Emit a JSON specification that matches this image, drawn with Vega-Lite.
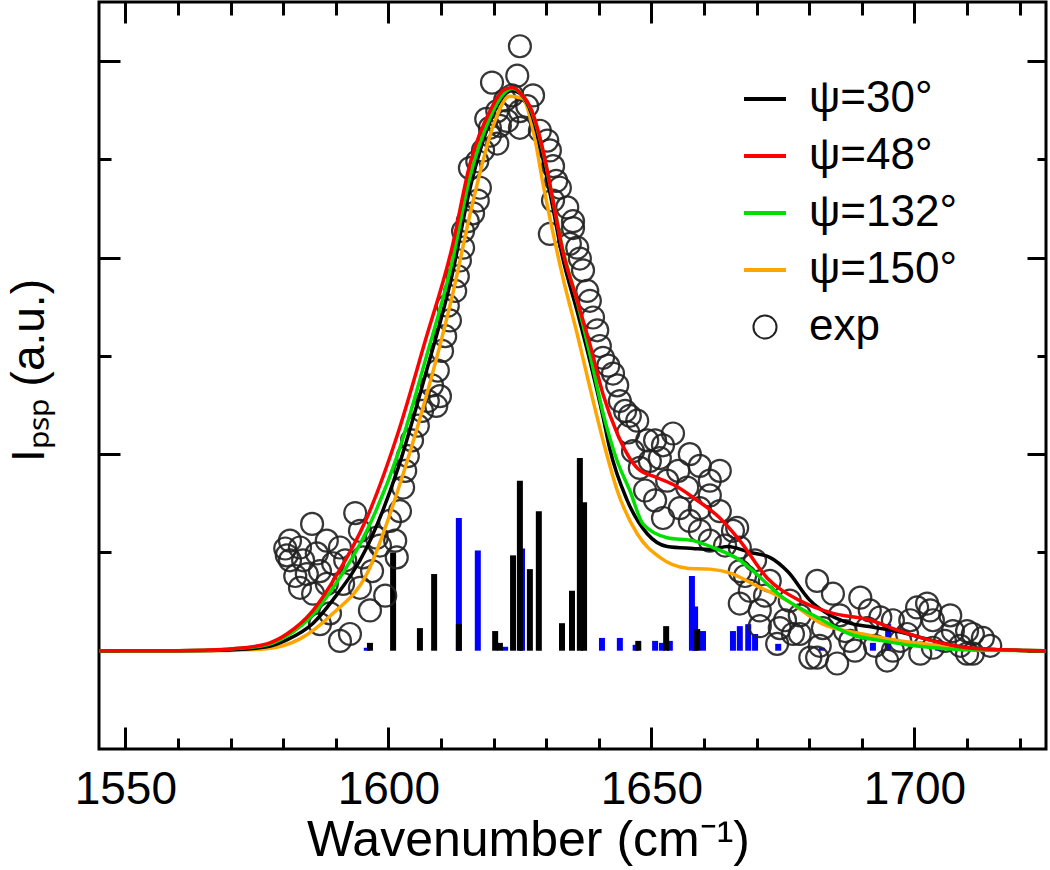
{
  "$schema": "https://vega.github.io/schema/vega-lite/v6.json",
  "width": 947,
  "height": 747,
  "autosize": {"type": "none"},
  "padding": {"left": 99, "top": 2, "right": 4, "bottom": 121},
  "background": "white",
  "config": {
    "view": {"stroke": "black", "strokeWidth": 3},
    "axis": {"domain": false, "grid": false, "tickColor": "black", "tickWidth": 3, "labelFont": "Liberation Sans", "titleFont": "Liberation Sans", "labelColor": "black", "titleColor": "black", "titleFontWeight": "normal"}
  },
  "datasets": {
    "sticks": [
      {"set": "blue", "wn": 1595.9, "h": 0.03}, {"set": "blue", "wn": 1613.4, "h": 1.35}, {"set": "blue", "wn": 1617.0, "h": 1.02}, {"set": "blue", "wn": 1622.2, "h": 0.04}, {"set": "blue", "wn": 1625.4, "h": 1.04}, {"set": "blue", "wn": 1640.6, "h": 0.13}, {"set": "blue", "wn": 1644.0, "h": 0.13}, {"set": "blue", "wn": 1647.0, "h": 0.06}, {"set": "blue", "wn": 1650.7, "h": 0.10}, {"set": "blue", "wn": 1652.0, "h": 0.08}, {"set": "blue", "wn": 1653.5, "h": 0.10}, {"set": "blue", "wn": 1657.7, "h": 0.76}, {"set": "blue", "wn": 1658.3, "h": 0.45}, {"set": "blue", "wn": 1659.8, "h": 0.20}, {"set": "blue", "wn": 1665.5, "h": 0.20}, {"set": "blue", "wn": 1666.8, "h": 0.25}, {"set": "blue", "wn": 1668.4, "h": 0.27}, {"set": "blue", "wn": 1669.7, "h": 0.17}, {"set": "blue", "wn": 1674.1, "h": 0.07}, {"set": "blue", "wn": 1682.4, "h": 0.03}, {"set": "blue", "wn": 1692.1, "h": 0.08}, {"set": "blue", "wn": 1695.0, "h": 0.27}, {"set": "blue", "wn": 1704.5, "h": 0.03},
      {"set": "black", "wn": 1596.5, "h": 0.08}, {"set": "black", "wn": 1600.9, "h": 1.0}, {"set": "black", "wn": 1606.0, "h": 0.23}, {"set": "black", "wn": 1608.7, "h": 0.78}, {"set": "black", "wn": 1613.4, "h": 0.27}, {"set": "black", "wn": 1620.3, "h": 0.20}, {"set": "black", "wn": 1621.2, "h": 0.08}, {"set": "black", "wn": 1623.7, "h": 0.97}, {"set": "black", "wn": 1625.0, "h": 1.73}, {"set": "black", "wn": 1626.9, "h": 0.83}, {"set": "black", "wn": 1628.6, "h": 1.42}, {"set": "black", "wn": 1633.0, "h": 0.28}, {"set": "black", "wn": 1634.9, "h": 0.61}, {"set": "black", "wn": 1636.4, "h": 1.96}, {"set": "black", "wn": 1637.2, "h": 1.51}, {"set": "black", "wn": 1647.5, "h": 0.10}, {"set": "black", "wn": 1652.8, "h": 0.25}, {"set": "black", "wn": 1658.7, "h": 0.22}
    ],
    "exp": [
      {"wn": 1580.4, "I": 1.04}, {"wn": 1581.3, "I": 1.12}, {"wn": 1583.2, "I": 1.05}, {"wn": 1585.5, "I": 1.29}, {"wn": 1588.3, "I": 1.12}, {"wn": 1590.8, "I": 1.05}, {"wn": 1593.7, "I": 1.40}, {"wn": 1594.6, "I": 1.22}, {"wn": 1580.7, "I": 0.97}, {"wn": 1583.8, "I": 0.92}, {"wn": 1586.4, "I": 0.99}, {"wn": 1589.5, "I": 0.89}, {"wn": 1584.5, "I": 0.78}, {"wn": 1583.2, "I": 0.64}, {"wn": 1585.7, "I": 0.58}, {"wn": 1588.3, "I": 0.68}, {"wn": 1591.4, "I": 0.68}, {"wn": 1594.6, "I": 0.64}, {"wn": 1595.2, "I": 0.95}, {"wn": 1597.8, "I": 1.15}, {"wn": 1600.3, "I": 1.32}, {"wn": 1601.6, "I": 0.95}, {"wn": 1602.2, "I": 1.42}, {"wn": 1602.8, "I": 1.66}, {"wn": 1588.9, "I": 0.38}, {"wn": 1587.0, "I": 0.27}, {"wn": 1590.8, "I": 0.10}, {"wn": 1592.7, "I": 0.17}, {"wn": 1581.3, "I": 0.92}, {"wn": 1582.3, "I": 0.76}, {"wn": 1587.0, "I": 0.81}, {"wn": 1591.8, "I": 0.92}, {"wn": 1596.9, "I": 0.81}, {"wn": 1599.4, "I": 0.56}, {"wn": 1596.5, "I": 0.41}, {"wn": 1598.4, "I": 1.07}, {"wn": 1601.3, "I": 1.12},
      {"wn": 1603.2, "I": 1.83}, {"wn": 1603.7, "I": 1.98}, {"wn": 1604.5, "I": 2.14}, {"wn": 1605.6, "I": 2.29}, {"wn": 1606.4, "I": 2.44}, {"wn": 1607.5, "I": 2.54}, {"wn": 1609.1, "I": 2.49}, {"wn": 1609.8, "I": 2.59}, {"wn": 1608.3, "I": 2.70}, {"wn": 1609.4, "I": 2.85}, {"wn": 1610.2, "I": 3.05}, {"wn": 1610.8, "I": 3.20}, {"wn": 1611.7, "I": 3.36}, {"wn": 1611.3, "I": 3.51}, {"wn": 1612.7, "I": 3.66}, {"wn": 1613.2, "I": 3.81}, {"wn": 1613.6, "I": 3.97}, {"wn": 1614.2, "I": 4.10}, {"wn": 1614.2, "I": 4.27}, {"wn": 1615.1, "I": 4.37}, {"wn": 1616.1, "I": 4.45}, {"wn": 1617.0, "I": 4.58}, {"wn": 1617.4, "I": 4.71}, {"wn": 1615.5, "I": 4.91}, {"wn": 1616.9, "I": 4.98}, {"wn": 1618.0, "I": 5.09}, {"wn": 1619.3, "I": 5.24}, {"wn": 1619.3, "I": 5.32}, {"wn": 1620.7, "I": 5.16}, {"wn": 1620.7, "I": 5.49}, {"wn": 1619.7, "I": 5.78}, {"wn": 1622.2, "I": 5.60}, {"wn": 1622.6, "I": 5.39}, {"wn": 1621.2, "I": 5.34}, {"wn": 1618.6, "I": 5.41},
      {"wn": 1624.5, "I": 5.85}, {"wn": 1625.0, "I": 6.15}, {"wn": 1623.5, "I": 5.65}, {"wn": 1625.0, "I": 5.49}, {"wn": 1625.0, "I": 5.32}, {"wn": 1626.4, "I": 5.54}, {"wn": 1627.5, "I": 5.65}, {"wn": 1628.8, "I": 5.29}, {"wn": 1630.2, "I": 5.19}, {"wn": 1630.7, "I": 5.09},
      {"wn": 1631.3, "I": 4.93}, {"wn": 1631.9, "I": 4.78}, {"wn": 1632.6, "I": 4.71}, {"wn": 1631.3, "I": 4.58}, {"wn": 1634.0, "I": 4.51}, {"wn": 1635.1, "I": 4.37}, {"wn": 1635.1, "I": 4.30}, {"wn": 1634.5, "I": 4.14}, {"wn": 1630.7, "I": 4.24}, {"wn": 1635.9, "I": 4.10}, {"wn": 1636.4, "I": 3.99}, {"wn": 1637.0, "I": 3.87}, {"wn": 1637.8, "I": 3.66}, {"wn": 1638.3, "I": 3.56}, {"wn": 1638.9, "I": 3.39}, {"wn": 1639.7, "I": 3.26}, {"wn": 1640.2, "I": 3.10}, {"wn": 1640.8, "I": 2.98}, {"wn": 1641.8, "I": 2.90}, {"wn": 1642.7, "I": 2.82}, {"wn": 1643.5, "I": 2.70}, {"wn": 1644.0, "I": 2.54}, {"wn": 1645.0, "I": 2.44}, {"wn": 1645.9, "I": 2.39}, {"wn": 1647.3, "I": 2.34}, {"wn": 1645.6, "I": 2.22}, {"wn": 1649.2, "I": 2.14}, {"wn": 1646.5, "I": 2.03}, {"wn": 1647.8, "I": 1.86}, {"wn": 1650.7, "I": 2.14}, {"wn": 1651.6, "I": 1.96}, {"wn": 1654.1, "I": 2.21}, {"wn": 1652.2, "I": 2.09}, {"wn": 1649.7, "I": 1.93}, {"wn": 1653.0, "I": 1.73}, {"wn": 1655.1, "I": 1.83}, {"wn": 1656.8, "I": 1.66}, {"wn": 1657.3, "I": 2.00}, {"wn": 1659.2, "I": 1.88}, {"wn": 1652.2, "I": 1.35}, {"wn": 1655.4, "I": 1.45}, {"wn": 1659.2, "I": 1.45}, {"wn": 1661.1, "I": 1.58}, {"wn": 1663.0, "I": 1.42}, {"wn": 1657.3, "I": 1.32}, {"wn": 1661.1, "I": 1.12}, {"wn": 1665.5, "I": 1.22}, {"wn": 1666.3, "I": 1.25}, {"wn": 1664.0, "I": 1.07}, {"wn": 1666.8, "I": 1.05}, {"wn": 1659.2, "I": 1.22}, {"wn": 1650.7, "I": 1.53}, {"wn": 1648.8, "I": 1.63}, {"wn": 1661.1, "I": 1.73}, {"wn": 1663.0, "I": 1.83},
      {"wn": 1666.8, "I": 0.48}, {"wn": 1670.6, "I": 0.41}, {"wn": 1673.9, "I": 0.07}, {"wn": 1681.5, "I": 0.71}, {"wn": 1684.5, "I": 0.58}, {"wn": 1689.7, "I": 0.54}, {"wn": 1680.2, "I": -0.07}, {"wn": 1685.3, "I": -0.13}, {"wn": 1695.9, "I": 0.0}, {"wn": 1700.5, "I": 0.44}, {"wn": 1703.0, "I": 0.41}, {"wn": 1707.3, "I": 0.20}, {"wn": 1711.1, "I": 0.17}, {"wn": 1710.0, "I": -0.03}, {"wn": 1693.5, "I": 0.34}, {"wn": 1698.6, "I": 0.17}, {"wn": 1676.9, "I": 0.17}, {"wn": 1682.6, "I": 0.23}, {"wn": 1687.8, "I": 0.10}, {"wn": 1703.5, "I": 0.03}, {"wn": 1713.0, "I": 0.13}, {"wn": 1667.8, "I": 0.76}, {"wn": 1668.7, "I": 0.61}, {"wn": 1671.6, "I": 0.56}, {"wn": 1674.4, "I": 0.23}, {"wn": 1678.2, "I": 0.17}, {"wn": 1681.5, "I": -0.07}, {"wn": 1694.8, "I": -0.10}, {"wn": 1702.4, "I": 0.48}, {"wn": 1703.5, "I": 0.31}, {"wn": 1710.0, "I": 0.20}, {"wn": 1711.1, "I": -0.03}, {"wn": 1701.1, "I": -0.03}, {"wn": 1695.9, "I": 0.31}, {"wn": 1691.0, "I": 0.23}, {"wn": 1669.7, "I": 0.92}, {"wn": 1672.5, "I": 0.71}, {"wn": 1676.3, "I": 0.51}, {"wn": 1678.2, "I": 0.36}, {"wn": 1685.8, "I": 0.36}, {"wn": 1686.8, "I": 0.20}, {"wn": 1691.5, "I": 0.41}, {"wn": 1697.3, "I": 0.10}, {"wn": 1705.8, "I": 0.10}, {"wn": 1708.7, "I": 0.05}, {"wn": 1666.8, "I": 0.81}, {"wn": 1670.6, "I": 0.25}, {"wn": 1675.4, "I": 0.31}, {"wn": 1682.0, "I": 0.05}, {"wn": 1688.7, "I": 0.0}, {"wn": 1692.5, "I": 0.05}, {"wn": 1699.2, "I": 0.31}, {"wn": 1706.8, "I": 0.36}, {"wn": 1714.4, "I": 0.05}
    ],
    "curves": [
      {"s": "ψ=150°", "wn": 1545, "I": 0}, {"s": "ψ=150°", "wn": 1565, "I": 0}, {"s": "ψ=150°", "wn": 1570.5, "I": 0.005}, {"s": "ψ=150°", "wn": 1576.9, "I": 0.02}, {"s": "ψ=150°", "wn": 1583.2, "I": 0.12}, {"s": "ψ=150°", "wn": 1589.5, "I": 0.38}, {"s": "ψ=150°", "wn": 1595.9, "I": 0.78}, {"s": "ψ=150°", "wn": 1601.8, "I": 1.63}, {"s": "ψ=150°", "wn": 1607, "I": 2.55}, {"s": "ψ=150°", "wn": 1612.1, "I": 3.6}, {"s": "ψ=150°", "wn": 1616, "I": 4.55}, {"s": "ψ=150°", "wn": 1620, "I": 5.35}, {"s": "ψ=150°", "wn": 1623, "I": 5.64}, {"s": "ψ=150°", "wn": 1625.5, "I": 5.62}, {"s": "ψ=150°", "wn": 1627.5, "I": 5.3}, {"s": "ψ=150°", "wn": 1629.4, "I": 4.75}, {"s": "ψ=150°", "wn": 1631.3, "I": 4.25}, {"s": "ψ=150°", "wn": 1633.2, "I": 3.79}, {"s": "ψ=150°", "wn": 1635.9, "I": 3.22}, {"s": "ψ=150°", "wn": 1638.3, "I": 2.68}, {"s": "ψ=150°", "wn": 1640.8, "I": 2.14}, {"s": "ψ=150°", "wn": 1643.5, "I": 1.63}, {"s": "ψ=150°", "wn": 1647.3, "I": 1.19}, {"s": "ψ=150°", "wn": 1651.6, "I": 0.95}, {"s": "ψ=150°", "wn": 1656.8, "I": 0.84}, {"s": "ψ=150°", "wn": 1661.1, "I": 0.83}, {"s": "ψ=150°", "wn": 1665, "I": 0.79}, {"s": "ψ=150°", "wn": 1670, "I": 0.66}, {"s": "ψ=150°", "wn": 1675.8, "I": 0.51}, {"s": "ψ=150°", "wn": 1682.6, "I": 0.27}, {"s": "ψ=150°", "wn": 1690.2, "I": 0.17}, {"s": "ψ=150°", "wn": 1695, "I": 0.12}, {"s": "ψ=150°", "wn": 1700, "I": 0.08}, {"s": "ψ=150°", "wn": 1705, "I": 0.05}, {"s": "ψ=150°", "wn": 1710, "I": 0.03}, {"s": "ψ=150°", "wn": 1716, "I": 0.01}, {"s": "ψ=150°", "wn": 1725, "I": 0},
      {"s": "ψ=30°", "wn": 1545, "I": 0}, {"s": "ψ=30°", "wn": 1560, "I": 0}, {"s": "ψ=30°", "wn": 1566, "I": 0.003}, {"s": "ψ=30°", "wn": 1570.5, "I": 0.01}, {"s": "ψ=30°", "wn": 1576.9, "I": 0.04}, {"s": "ψ=30°", "wn": 1580.7, "I": 0.11}, {"s": "ψ=30°", "wn": 1585.7, "I": 0.28}, {"s": "ψ=30°", "wn": 1589.5, "I": 0.52}, {"s": "ψ=30°", "wn": 1595.9, "I": 1.05}, {"s": "ψ=30°", "wn": 1601.8, "I": 1.85}, {"s": "ψ=30°", "wn": 1607, "I": 2.8}, {"s": "ψ=30°", "wn": 1612.1, "I": 3.82}, {"s": "ψ=30°", "wn": 1615.5, "I": 4.7}, {"s": "ψ=30°", "wn": 1619.3, "I": 5.38}, {"s": "ψ=30°", "wn": 1621.8, "I": 5.64}, {"s": "ψ=30°", "wn": 1623.5, "I": 5.70}, {"s": "ψ=30°", "wn": 1625, "I": 5.67}, {"s": "ψ=30°", "wn": 1627.3, "I": 5.45}, {"s": "ψ=30°", "wn": 1629.4, "I": 5.0}, {"s": "ψ=30°", "wn": 1631.3, "I": 4.5}, {"s": "ψ=30°", "wn": 1633, "I": 4.03}, {"s": "ψ=30°", "wn": 1635.9, "I": 3.45}, {"s": "ψ=30°", "wn": 1638.3, "I": 2.95}, {"s": "ψ=30°", "wn": 1640.8, "I": 2.38}, {"s": "ψ=30°", "wn": 1642.1, "I": 2.05}, {"s": "ψ=30°", "wn": 1645.4, "I": 1.53}, {"s": "ψ=30°", "wn": 1649.2, "I": 1.19}, {"s": "ψ=30°", "wn": 1653, "I": 1.06}, {"s": "ψ=30°", "wn": 1657.9, "I": 1.04}, {"s": "ψ=30°", "wn": 1661.1, "I": 1.03}, {"s": "ψ=30°", "wn": 1664.5, "I": 1.06}, {"s": "ψ=30°", "wn": 1668.7, "I": 1.0}, {"s": "ψ=30°", "wn": 1672.5, "I": 0.95}, {"s": "ψ=30°", "wn": 1676, "I": 0.8}, {"s": "ψ=30°", "wn": 1680, "I": 0.52}, {"s": "ψ=30°", "wn": 1684, "I": 0.36}, {"s": "ψ=30°", "wn": 1687.7, "I": 0.28}, {"s": "ψ=30°", "wn": 1692, "I": 0.24}, {"s": "ψ=30°", "wn": 1697.3, "I": 0.19}, {"s": "ψ=30°", "wn": 1703, "I": 0.11}, {"s": "ψ=30°", "wn": 1710, "I": 0.03}, {"s": "ψ=30°", "wn": 1716, "I": 0.01}, {"s": "ψ=30°", "wn": 1725, "I": 0},
      {"s": "ψ=132°", "wn": 1545, "I": 0}, {"s": "ψ=132°", "wn": 1560, "I": 0}, {"s": "ψ=132°", "wn": 1566, "I": 0.005}, {"s": "ψ=132°", "wn": 1570.5, "I": 0.02}, {"s": "ψ=132°", "wn": 1576.9, "I": 0.06}, {"s": "ψ=132°", "wn": 1580.7, "I": 0.15}, {"s": "ψ=132°", "wn": 1585.7, "I": 0.37}, {"s": "ψ=132°", "wn": 1589.5, "I": 0.64}, {"s": "ψ=132°", "wn": 1595.9, "I": 1.22}, {"s": "ψ=132°", "wn": 1601.8, "I": 2.0}, {"s": "ψ=132°", "wn": 1607, "I": 2.95}, {"s": "ψ=132°", "wn": 1612.1, "I": 3.95}, {"s": "ψ=132°", "wn": 1615.5, "I": 4.82}, {"s": "ψ=132°", "wn": 1619.3, "I": 5.42}, {"s": "ψ=132°", "wn": 1621.8, "I": 5.66}, {"s": "ψ=132°", "wn": 1623.5, "I": 5.72}, {"s": "ψ=132°", "wn": 1625, "I": 5.68}, {"s": "ψ=132°", "wn": 1627.3, "I": 5.48}, {"s": "ψ=132°", "wn": 1629.4, "I": 5.08}, {"s": "ψ=132°", "wn": 1631.3, "I": 4.58}, {"s": "ψ=132°", "wn": 1633, "I": 4.12}, {"s": "ψ=132°", "wn": 1635.9, "I": 3.55}, {"s": "ψ=132°", "wn": 1638.3, "I": 3.02}, {"s": "ψ=132°", "wn": 1640.8, "I": 2.42}, {"s": "ψ=132°", "wn": 1643.5, "I": 1.93}, {"s": "ψ=132°", "wn": 1645.9, "I": 1.63}, {"s": "ψ=132°", "wn": 1648.4, "I": 1.29}, {"s": "ψ=132°", "wn": 1653, "I": 1.15}, {"s": "ψ=132°", "wn": 1657.9, "I": 1.12}, {"s": "ψ=132°", "wn": 1661.7, "I": 1.05}, {"s": "ψ=132°", "wn": 1666.8, "I": 0.92}, {"s": "ψ=132°", "wn": 1668.7, "I": 0.84}, {"s": "ψ=132°", "wn": 1675, "I": 0.54}, {"s": "ψ=132°", "wn": 1681.5, "I": 0.34}, {"s": "ψ=132°", "wn": 1687.7, "I": 0.17}, {"s": "ψ=132°", "wn": 1694, "I": 0.10}, {"s": "ψ=132°", "wn": 1700, "I": 0.05}, {"s": "ψ=132°", "wn": 1706, "I": 0.02}, {"s": "ψ=132°", "wn": 1712, "I": 0.005}, {"s": "ψ=132°", "wn": 1725, "I": 0},
      {"s": "ψ=48°", "wn": 1545, "I": 0}, {"s": "ψ=48°", "wn": 1560, "I": 0}, {"s": "ψ=48°", "wn": 1565, "I": 0.005}, {"s": "ψ=48°", "wn": 1570.5, "I": 0.02}, {"s": "ψ=48°", "wn": 1576.9, "I": 0.07}, {"s": "ψ=48°", "wn": 1580.7, "I": 0.17}, {"s": "ψ=48°", "wn": 1585.7, "I": 0.41}, {"s": "ψ=48°", "wn": 1589.5, "I": 0.71}, {"s": "ψ=48°", "wn": 1595.9, "I": 1.35}, {"s": "ψ=48°", "wn": 1601.8, "I": 2.21}, {"s": "ψ=48°", "wn": 1607, "I": 3.15}, {"s": "ψ=48°", "wn": 1612.1, "I": 4.10}, {"s": "ψ=48°", "wn": 1615.5, "I": 4.95}, {"s": "ψ=48°", "wn": 1619.3, "I": 5.49}, {"s": "ψ=48°", "wn": 1621.8, "I": 5.70}, {"s": "ψ=48°", "wn": 1623.5, "I": 5.73}, {"s": "ψ=48°", "wn": 1625, "I": 5.68}, {"s": "ψ=48°", "wn": 1627.3, "I": 5.49}, {"s": "ψ=48°", "wn": 1629.4, "I": 5.09}, {"s": "ψ=48°", "wn": 1631.3, "I": 4.58}, {"s": "ψ=48°", "wn": 1633, "I": 4.10}, {"s": "ψ=48°", "wn": 1635.9, "I": 3.56}, {"s": "ψ=48°", "wn": 1638.3, "I": 3.12}, {"s": "ψ=48°", "wn": 1640.8, "I": 2.61}, {"s": "ψ=48°", "wn": 1643.5, "I": 2.21}, {"s": "ψ=48°", "wn": 1647.3, "I": 1.86}, {"s": "ψ=48°", "wn": 1651.1, "I": 1.76}, {"s": "ψ=48°", "wn": 1654.5, "I": 1.68}, {"s": "ψ=48°", "wn": 1657.9, "I": 1.56}, {"s": "ψ=48°", "wn": 1663, "I": 1.35}, {"s": "ψ=48°", "wn": 1666.8, "I": 1.12}, {"s": "ψ=48°", "wn": 1672, "I": 0.74}, {"s": "ψ=48°", "wn": 1678.2, "I": 0.51}, {"s": "ψ=48°", "wn": 1684.5, "I": 0.38}, {"s": "ψ=48°", "wn": 1691, "I": 0.32}, {"s": "ψ=48°", "wn": 1697.3, "I": 0.20}, {"s": "ψ=48°", "wn": 1703.5, "I": 0.10}, {"s": "ψ=48°", "wn": 1710, "I": 0.03}, {"s": "ψ=48°", "wn": 1716.3, "I": 0.01}, {"s": "ψ=48°", "wn": 1725, "I": 0}
    ]
  },
  "resolve": {"axis": {"x": "independent", "y": "independent"}},
  "layer": [
    {
      "data": {"name": "sticks"},
      "transform": [{"filter": "datum.set === 'blue'"}],
      "mark": {"type": "rule", "color": "#0000ff", "strokeWidth": 6, "strokeCap": "butt"},
      "encoding": {
        "x": {"field": "wn", "type": "quantitative", "scale": {"domain": [1545, 1725], "nice": false, "zero": false},
              "axis": {"orient": "bottom", "values": [1550, 1560, 1570, 1580, 1590, 1600, 1610, 1620, 1630, 1640, 1650, 1660, 1670, 1680, 1690, 1700, 1710, 1720], "tickSize": -11, "labels": false, "title": null}},
        "y": {"field": "h", "type": "quantitative", "scale": {"domain": [-1, 6.6], "nice": false, "zero": false},
              "axis": {"orient": "left", "values": [1, 3, 5], "tickSize": -12, "labels": false, "title": null}},
        "y2": {"datum": 0}
      }
    },
    {
      "data": {"name": "sticks"},
      "transform": [{"filter": "datum.set === 'black'"}],
      "mark": {"type": "rule", "color": "#000000", "strokeWidth": 6, "strokeCap": "butt"},
      "encoding": {
        "x": {"field": "wn", "type": "quantitative", "scale": {"domain": [1545, 1725], "nice": false, "zero": false},
              "axis": {"orient": "bottom", "values": [1550, 1600, 1650, 1700], "tickSize": -22, "labels": true, "labelFontSize": 46, "labelPadding": 76, "labelBaseline": "alphabetic", "format": "d",
                       "title": "Wavenumber (cm⁻¹)", "titleFontSize": 50, "titleX": 429, "titleY": 106, "titleBaseline": "alphabetic"}},
        "y": {"field": "h", "type": "quantitative", "scale": {"domain": [-1, 6.6], "nice": false, "zero": false},
              "axis": {"orient": "left", "values": [0, 2, 4, 6], "tickSize": -21, "labels": false,
                       "title": "Iₚₛₚ (a.u.)", "titleFontSize": 46, "titleX": -56, "titleY": 368, "titleAngle": 270, "titleBaseline": "alphabetic", "titleAlign": "center"}},
        "y2": {"datum": 0}
      }
    },
    {
      "data": {"name": "exp"},
      "mark": {"type": "point", "filled": false, "strokeWidth": 2.2, "size": 1600, "opacity": 0.9},
      "encoding": {
        "x": {"field": "wn", "type": "quantitative", "scale": {"domain": [1545, 1725], "nice": false, "zero": false},
              "axis": {"orient": "top", "values": [1550, 1600, 1650, 1700], "tickSize": -21, "labels": false, "title": null}},
        "y": {"field": "I", "type": "quantitative", "scale": {"domain": [-1, 6.6], "nice": false, "zero": false},
              "axis": {"orient": "right", "values": [0, 2, 4, 6], "tickSize": -19, "labels": false, "title": null}},
        "color": {"datum": "exp", "type": "nominal",
                  "scale": {"domain": ["ψ=30°", "ψ=48°", "ψ=132°", "ψ=150°", "exp"], "range": ["#000000", "#ff0000", "#00e000", "#ffa500", "#222222"]},
                  "legend": {"title": null, "orient": "none", "legendX": 644, "legendY": 75, "labelFontSize": 44, "labelFont": "Liberation Sans", "labelColor": "black", "symbolSize": 1764, "labelOffset": 22, "rowPadding": 13, "padding": 0, "symbolStrokeWidth": 4,
                             "encode": {"symbols": {"update": {"fill": {"value": "transparent"}, "strokeWidth": {"signal": "datum.value === 'exp' ? 2 : 4"}}}}}},
        "shape": {"datum": "exp", "type": "nominal",
                  "scale": {"domain": ["ψ=30°", "ψ=48°", "ψ=132°", "ψ=150°", "exp"], "range": ["stroke", "stroke", "stroke", "stroke", "M0.55,0A0.55,0.55,0,1,1,-0.55,0A0.55,0.55,0,1,1,0.55,0Z"]},
                  "legend": {"title": null, "orient": "none", "legendX": 644, "legendY": 75, "labelFontSize": 44, "labelFont": "Liberation Sans", "labelColor": "black", "symbolSize": 1764, "labelOffset": 22, "rowPadding": 13, "padding": 0, "symbolStrokeWidth": 4,
                             "encode": {"symbols": {"update": {"fill": {"value": "transparent"}, "strokeWidth": {"signal": "datum.value === 'exp' ? 2 : 4"}}}}}}
      }
    },
    {
      "data": {"name": "curves"},
      "mark": {"type": "line", "strokeWidth": 3.5, "interpolate": "monotone"},
      "encoding": {
        "x": {"field": "wn", "type": "quantitative", "scale": {"domain": [1545, 1725], "nice": false, "zero": false},
              "axis": {"orient": "top", "values": [1560, 1570, 1580, 1590, 1610, 1620, 1630, 1640, 1660, 1670, 1680, 1690, 1710, 1720], "tickSize": -13, "labels": false, "title": null}},
        "y": {"field": "I", "type": "quantitative", "scale": {"domain": [-1, 6.6], "nice": false, "zero": false},
              "axis": {"orient": "right", "values": [1, 3, 5], "tickSize": -9, "labels": false, "title": null}},
        "color": {"field": "s", "type": "nominal",
                  "scale": {"domain": ["ψ=30°", "ψ=48°", "ψ=132°", "ψ=150°", "exp"], "range": ["#000000", "#ff0000", "#00e000", "#ffa500", "#222222"]},
                  "legend": {"title": null, "orient": "none", "legendX": 644, "legendY": 75, "labelFontSize": 44, "labelFont": "Liberation Sans", "labelColor": "black", "symbolSize": 1764, "labelOffset": 22, "rowPadding": 13, "padding": 0, "symbolStrokeWidth": 4,
                             "encode": {"symbols": {"update": {"fill": {"value": "transparent"}, "strokeWidth": {"signal": "datum.value === 'exp' ? 2 : 4"}}}}}}
      }
    }
  ]
}
